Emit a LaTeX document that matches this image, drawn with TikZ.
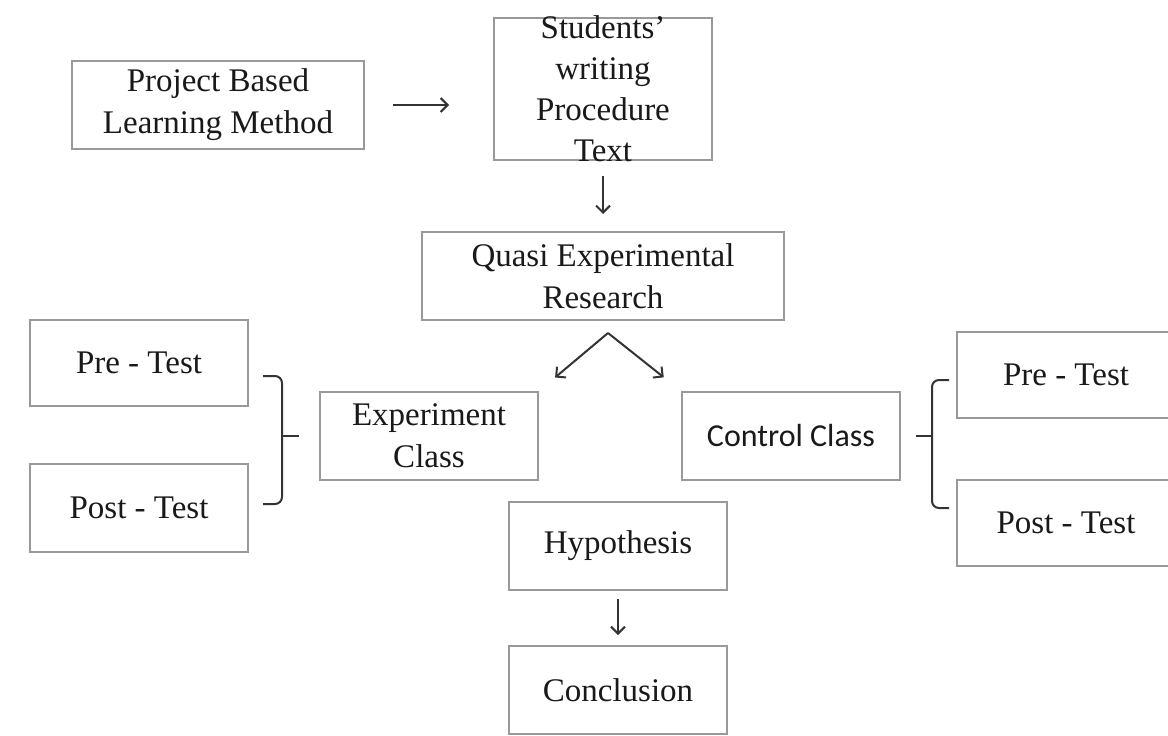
\documentclass[tikz,border=0pt]{standalone}
\usepackage{fontspec}
\setmainfont{Liberation Serif}
\newfontfamily\ctrlfont{Carlito}
\usepackage{tikz}
\usetikzlibrary{arrows.meta,calc,positioning}

\begin{document}
\begin{tikzpicture}[
    x=1pt, y=-1pt,
    >={Straight Barb[length=7pt, width=14pt]},
    box/.style   = {draw = gray!80, line width = 2pt, minimum width = 218, minimum height = 88,
                    align = center, inner sep = 0pt, text = black!90,
                    font = \fontsize{33}{42}\selectfont},
    flow/.style  = {->, line width = 2pt, black!80},
    brace/.style = {line width = 2pt, black!80, rounded corners = 7pt},
  ]

	\useasboundingbox (0,0) rectangle (1168,736);

	% Kaesten oben
	\node (pbl)  at (218,105) [box, minimum width = 292]{Project Based\\Learning Method};
	\node (stud) at (603,89)  [box, minimum height = 142,
	    label = {[align = center, text = black!90, font = \fontsize{33}{41}\selectfont]center:Students'\\writing\\Procedure\\Text}]{};
	\node (quasi) at (603,276) [box, minimum width = 362]{Quasi Experimental\\Research};

	% Klassen
	\node (expc) at (429,436) [box]{Experiment\\Class};
	\node (ctrl) at (791,436) [box, font = \ctrlfont\fontsize{32}{40}\selectfont]{Control Class};

	% Tests
	\node (preL)  at (139,363)  [box, minimum height = 86]{Pre - Test};
	\node (postL) at (139,508)  [box]{Post - Test};
	\node (preR)  at (1066,375) [box, minimum height = 86]{Pre - Test};
	\node (postR) at (1066,523) [box, minimum height = 86]{Post - Test};

	% Ergebnis
	\node (hyp)   at (618,546) [box]{Hypothesis};
	\node (concl) at (618,690) [box]{Conclusion};

	% Pfeile
	\draw[flow, shorten <= 28pt, shorten >= 44pt] (pbl.east) -- (pbl.east -| stud.west);
	\draw[flow, shorten <= 15pt, shorten >= 17pt] (stud.south) -- (quasi.north);
	\coordinate (split) at (608,333);
	\draw[flow, shorten >= 21pt] (split) -- (expc.north east);
	\draw[flow, shorten >= 22pt] (split) -- (ctrl.north west);
	\draw[flow, shorten <= 8pt, shorten >= 10pt] (hyp.south) -- (concl.north);

	% Klammern links
	\draw[brace] ($(preL.east)+(14,13)$) -- ($(preL.east)+(33,13)$) -- ($(postL.east)+(33,-4)$) -- ($(postL.east)+(14,-4)$);
	\draw[brace, shorten <= 20pt] (expc.west) -- ($(preL.east)+(33,73)$);

	% Klammern rechts
	\draw[brace] ($(preR.west)+(-7,5)$) -- ($(preR.west)+(-24,5)$) -- ($(postR.west)+(-24,-15)$) -- ($(postR.west)+(-7,-15)$);
	\draw[brace, shorten <= 15pt] (ctrl.east) -- ($(preR.west)+(-24,61)$);

\end{tikzpicture}
\end{document}
